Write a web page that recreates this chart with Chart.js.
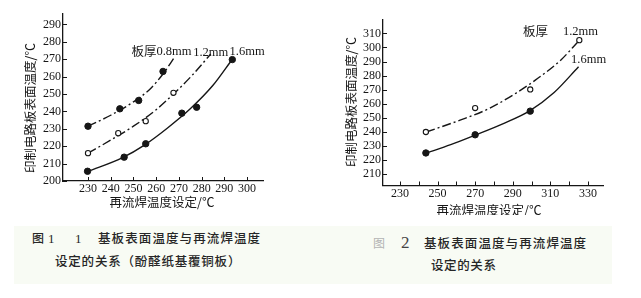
<!DOCTYPE html>
<html>
<head>
<meta charset="utf-8">
<script src="https://cdn.jsdelivr.net/npm/chart.js@4"></script>
<style>
  body { margin: 0; width: 641px; height: 298px; background: #fff; position: relative; overflow: hidden; }
  canvas { position: absolute; top: 0; }
  #fig1 { left: 0; }
  #fig2 { left: 320px; }
  .band { position: absolute; left: 14px; top: 226px; width: 598px; height: 58px; background: #f8fbf4; }
  .cap { position: absolute; font-family: "Noto Sans CJK SC"; font-size: 12.5px; font-weight: 500; color: #262626; white-space: nowrap; line-height: 1; }
  .num { font-family: "Liberation Serif"; font-size: 13px; font-weight: 400; }
</style>
</head>
<body>
<div class="band"></div>
<canvas id="fig1" width="320" height="215"></canvas>
<canvas id="fig2" width="321" height="215"></canvas>

<div class="cap" style="left:32px;top:232px;font-size:12px">图</div>
<div class="cap num" style="left:48px;top:232px">1</div>
<div class="cap num" style="left:75px;top:232px">1</div>
<div class="cap" style="left:98px;top:232px;letter-spacing:1.1px">基板表面温度与再流焊温度</div>
<div class="cap" style="left:55px;top:255px;letter-spacing:0.8px">设定的关系（酚醛纸基覆铜板）</div>

<div class="cap" style="left:373px;top:237px;font-size:12px;font-weight:400;color:#b3b3b3">图</div>
<div class="cap num" style="left:401px;top:234px;font-size:17px;color:#444">2</div>
<div class="cap" style="left:424px;top:237px;letter-spacing:1.1px">基板表面温度与再流焊温度</div>
<div class="cap" style="left:431px;top:259px;letter-spacing:0.6px">设定的关系</div>

<script>
// 图1: 酚醛纸基覆铜板, measured points
const f1X08 = [230, 244, 252.3, 263];
const f1Y08 = [231.5, 241.5, 246.3, 263];
const f1X12 = [230, 243.3, 255.4, 267.6];
const f1Y12 = [216, 227.5, 234.4, 250.7];
const f1X16 = [229.8, 245.9, 255.4, 271.3, 277.8, 293.5];
const f1Y16 = [205.6, 213.7, 221.4, 239, 242.4, 269.8];

// 图1 fitted curves
const f1CurveX08 = [230, 240, 250, 257, 263, 268];
const f1CurveY08 = [231.5, 237.8, 245.5, 252.5, 261.5, 271];
const f1CurveX12 = [230, 240, 250, 260, 268, 276, 284];
const f1CurveY12 = [216, 223.5, 231.5, 241, 250.5, 261, 273];
const f1CurveX16 = [230, 245, 255, 265, 275, 285, 293.5];
const f1CurveY16 = [205.5, 213.3, 220.8, 230.5, 241.5, 255, 270];

const f1XTicks = [230, 240, 250, 260, 270, 280, 290, 300];
const f1YTicks = [200, 210, 220, 230, 240, 250, 260, 270, 280, 290];

// 图2 measured points
const f2X12 = [243.8, 270, 299.3, 325.4];
const f2Y12 = [240, 257, 270.2, 305.2];
const f2X16 = [243.8, 270, 299.3];
const f2Y16 = [225.1, 238, 254.8];

// 图2 fitted curves
const f2CurveX12 = [244, 262, 277.5, 292, 302, 315.5, 325.5];
const f2CurveY12 = [240, 248.4, 256.7, 267.8, 276.8, 291, 305.2];
const f2CurveX16 = [244, 257, 270, 285, 299, 312, 325];
const f2CurveY16 = [225, 231, 237.8, 246, 255, 268, 286.3];

const f2XTicks = [230, 240, 250, 260, 270, 280, 290, 300, 310, 320, 330];
const f2YTicks = [210, 220, 230, 240, 250, 260, 270, 280, 290, 300, 310];

const INK = '#161616';
const DASH_DOT = [9, 3, 2, 3];
const tickFont = { family: 'Liberation Serif', size: 12 };
const cjkFont = '12.5px "Noto Sans CJK SC"';
const serifFont = '12.5px "Liberation Serif"';

function pts(xs, ys) {
  return xs.map((x, i) => ({ x: x, y: ys[i] }));
}

function curve(xs, ys, dash) {
  return {
    data: pts(xs, ys),
    showLine: true,
    pointRadius: 0,
    borderColor: INK,
    borderWidth: 1.4,
    borderDash: dash,
    cubicInterpolationMode: 'monotone',
    order: 2,
  };
}

function marks(xs, ys, open) {
  return {
    data: pts(xs, ys),
    showLine: false,
    pointRadius: open ? 2.6 : 3.2,
    pointBackgroundColor: open ? '#fff' : INK,
    pointBorderColor: INK,
    pointBorderWidth: open ? 1.1 : 1,
    order: 1,
  };
}

// small tick marks pointing into the plot
const innerTicks = {
  id: 'innerTicks',
  afterDatasetsDraw(chart) {
    const { ctx, chartArea, scales } = chart;
    ctx.save();
    ctx.strokeStyle = INK;
    ctx.lineWidth = 1;
    for (const t of scales.x.ticks) {
      const px = Math.round(scales.x.getPixelForValue(t.value)) + 0.5;
      ctx.beginPath();
      ctx.moveTo(px, chartArea.bottom);
      ctx.lineTo(px, chartArea.bottom - 4);
      ctx.stroke();
    }
    for (const t of scales.y.ticks) {
      const py = Math.round(scales.y.getPixelForValue(t.value)) + 0.5;
      ctx.beginPath();
      ctx.moveTo(chartArea.left, py);
      ctx.lineTo(chartArea.left + 4, py);
      ctx.stroke();
    }
    ctx.restore();
  },
};

function textLayer(items) {
  return {
    id: 'textLayer',
    afterDraw(chart) {
      const { ctx, scales } = chart;
      ctx.save();
      ctx.fillStyle = INK;
      ctx.textBaseline = 'middle';
      for (const n of items) {
        const x = n.onData ? scales.x.getPixelForValue(n.x) : n.x;
        const y = n.onData ? scales.y.getPixelForValue(n.y) : n.y;
        ctx.font = n.font;
        ctx.textAlign = n.align || 'left';
        ctx.save();
        ctx.translate(x, y);
        if (n.rot) ctx.rotate(n.rot);
        ctx.fillText(n.text, 0, 0);
        ctx.restore();
      }
      ctx.restore();
    },
  };
}

function axis(min, max, tickList, fitSize, isX, every) {
  return {
    type: 'linear',
    min: min,
    max: max,
    grid: { display: false, drawTicks: false },
    border: { display: true, color: INK, width: 1.3 },
    ticks: {
      font: tickFont,
      color: INK,
      padding: isX ? 1 : 2,
      maxRotation: 0,
      autoSkip: false,
      callback: (v) => (every && (v - tickList[0]) % every !== 0 ? '' : v),
    },
    afterBuildTicks: (s) => { s.ticks = tickList.map((v) => ({ value: v })); },
    afterFit: (s) => { if (isX) s.height = fitSize; else s.width = fitSize; },
  };
}

function baseOptions(padding, scales) {
  return {
    responsive: false,
    animation: false,
    layout: { padding: padding },
    plugins: { legend: { display: false }, tooltip: { enabled: false } },
    scales: scales,
  };
}

new Chart(document.getElementById('fig1'), {
  type: 'scatter',
  data: {
    datasets: [
      curve(f1CurveX08, f1CurveY08, DASH_DOT),
      curve(f1CurveX12, f1CurveY12, DASH_DOT),
      curve(f1CurveX16, f1CurveY16, []),
      marks(f1X08, f1Y08, false),
      marks(f1X12, f1Y12, true),
      marks(f1X16, f1Y16, false),
    ],
  },
  options: baseOptions({ top: 14, right: 57, left: 0, bottom: 0 }, {
    x: axis(219, 307, f1XTicks, 34, true),
    y: axis(200, 296, f1YTicks, 63, false),
  }),
  plugins: [innerTicks, textLayer([
    { text: '板厚', x: 249.1, y: 274.3, onData: true, font: cjkFont },
    { text: '0.8mm', x: 260.1, y: 274.3, onData: true, font: serifFont },
    { text: '1.2mm', x: 276.3, y: 273.6, onData: true, font: serifFont },
    { text: '1.6mm', x: 292.3, y: 274.3, onData: true, font: serifFont },
    { text: '再流焊温度设定/℃', x: 162, y: 202, font: cjkFont, align: 'center' },
    { text: '印制电路板表面温度/℃', x: 30, y: 108, font: cjkFont, align: 'center', rot: -Math.PI / 2 },
  ])],
});

new Chart(document.getElementById('fig2'), {
  type: 'scatter',
  data: {
    datasets: [
      curve(f2CurveX12, f2CurveY12, DASH_DOT),
      curve(f2CurveX16, f2CurveY16, []),
      marks(f2X12, f2Y12, true),
      marks(f2X16, f2Y16, false),
    ],
  },
  options: baseOptions({ top: 20, right: 38, left: 0, bottom: 0 }, {
    x: axis(221, 338, f2XTicks, 29.5, true, 20),
    y: axis(202, 319.5, f2YTicks, 63, false),
  }),
  plugins: [innerTicks, textLayer([
    { text: '板厚', x: 295.5, y: 311.2, onData: true, font: cjkFont },
    { text: '1.2mm', x: 316.7, y: 311.2, onData: true, font: serifFont },
    { text: '1.6mm', x: 321, y: 291.1, onData: true, font: serifFont },
    { text: '再流焊温度设定/℃', x: 169, y: 210, font: cjkFont, align: 'center' },
    { text: '印制电路板表面温度/℃', x: 31, y: 102, font: cjkFont, align: 'center', rot: -Math.PI / 2 },
  ])],
});
</script>
</body>
</html>
